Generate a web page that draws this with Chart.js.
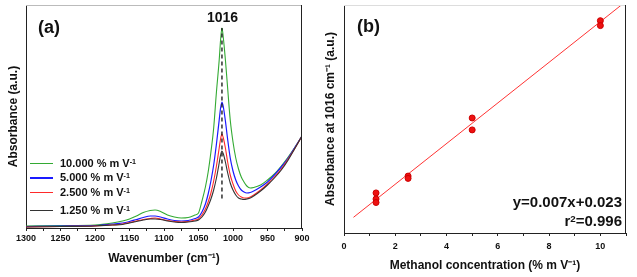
<!DOCTYPE html>
<html><head><meta charset="utf-8">
<script src="https://cdn.jsdelivr.net/npm/chart.js@4/dist/chart.umd.min.js"></script>
<style>
html,body{margin:0;padding:0;background:#fff;}
#wrap{position:relative;width:637px;height:277px;overflow:hidden;font-family:"Liberation Sans",Arial,sans-serif;color:#111;}
.pane{position:absolute;top:0;}
.t{position:absolute;font-weight:bold;white-space:nowrap;line-height:1;}
.t sup{font-size:65%;vertical-align:0;position:relative;top:-0.45em;}
.lg{position:absolute;height:0;}
</style></head><body>
<div id="wrap">
  <div class="pane" style="left:0;width:318px;height:277px"><canvas id="ca" width="318" height="277"></canvas></div>
  <div class="pane" style="left:320px;width:317px;height:277px"><canvas id="cb" width="317" height="277"></canvas></div>

  <div class="t" style="left:38px;top:18px;font-size:18px">(a)</div>
  <div class="t" style="left:207px;top:10px;font-size:14px">1016</div>

  <div class="lg" style="left:30px;top:163px;width:23px;border-top:1px solid #33aa33"></div>
  <div class="t" style="left:60px;top:158px;font-size:11px">10.000 % m V<sup>-1</sup></div>
  <div class="lg" style="left:30px;top:177px;width:23px;border-top:2px solid #1a1aff"></div>
  <div class="t" style="left:60px;top:172px;font-size:11px">5.000 % m V<sup>-1</sup></div>
  <div class="lg" style="left:30px;top:192px;width:23px;border-top:1px solid #ff2a2a"></div>
  <div class="t" style="left:60px;top:187px;font-size:11px">2.500 % m V<sup>-1</sup></div>
  <div class="lg" style="left:30px;top:210px;width:23px;border-top:1px solid #333"></div>
  <div class="t" style="left:60px;top:205px;font-size:11px">1.250 % m V<sup>-1</sup></div>

  <div class="t" style="left:357px;top:17px;font-size:18px">(b)</div>
  <div class="t" style="right:15px;top:194px;font-size:15px">y=0.007x+0.023</div>
  <div class="t" style="right:15px;top:213px;font-size:15px">r<sup>2</sup>=0.996</div>
</div>
<script>
// ---------- Panel (a): FTIR spectra ----------
const wavenumbers = [1300,1250,1200,1175,1160,1150,1140,1130,1120,1113,1105,1095,1085,1075,1065,1055,1050,1045,1040,1036,1032,1028,1024,1020,1018,1016,1014,1011,1008,1004,1000,996,992,988,984,980,975,970,960,950,940,930,920,910,900];
const abs10000 = [2,2.5,3,5,7,9,12,15.5,17.5,18,16.5,13,11,10,10.5,13,15,27,41,56,76,100,136,168,188,200,190,168,142,108,86,70,59,51,46,42,40,40.5,43,48,54,62,71,81,92];
const abs5000  = [1.5,2,2.5,4,5,6.5,8.5,10.5,12,12,11,9,7.5,7,7.5,9.5,11,16,24,34,47,63,84,108,120,126,121,107,90,70,57,48,42,38,36,35,35.5,37,41,46,53,61,70,81,92];
const abs2500  = [1,1.5,2,3,4,5.5,7,8.5,9.5,10,9,7.5,6.5,6,6.5,8,9,13,19,26,35,47,62,80,89,94,90,80,67,53,44,37,33,31,30,30,31,33,38,44,51,59,69,80,92];
const abs1250  = [1,1.5,2,3,3.5,5,6.5,8,9,9,8.5,7,6,5.5,6,7,8,11,16,22,29,38,50,65,73,77,74,66,56,45,38,33,30,29,28.5,29,30,32,37,43,50,58,68,80,92];
const peakMarkerX = [1016, 1016];
const peakMarkerY = [29.5, 200];
const xTicksA = [1300,1250,1200,1150,1100,1050,1000,950,900];

// ---------- Panel (b): calibration ----------
const concentrations = [1.25,1.25,1.25,2.5,2.5,5,5,10,10];
const absorbance1016 = [0.0340,0.0319,0.0307,0.0398,0.0390,0.0598,0.0557,0.0933,0.0916];
const fitX = [0.37, 10.82];
const fitY = [0.0256, 0.0987];
const xTicksB = [0,2,4,6,8,10];

const FONT = '"Liberation Sans", Arial, sans-serif';
const zip = (xs, ys) => xs.map((x, i) => ({x, y: ys[i]}));

const framePlugin = (topColor) => ({
  id: 'frame',
  afterDraw(chart) {
    const {ctx, chartArea: a} = chart;
    ctx.save();
    ctx.lineWidth = 1;
    ctx.strokeStyle = topColor;
    ctx.beginPath(); ctx.moveTo(a.left, a.top + 0.5); ctx.lineTo(a.right, a.top + 0.5); ctx.stroke();
    ctx.strokeStyle = '#222';
    ctx.beginPath(); ctx.moveTo(a.right - 0.5, a.top); ctx.lineTo(a.right - 0.5, a.bottom); ctx.stroke();
    ctx.restore();
  }
});

function lineDs(label, ys, color, width, order) {
  return {label, data: zip(wavenumbers, ys), borderColor: color, borderWidth: width,
    pointRadius: 0, fill: false, cubicInterpolationMode: 'monotone', order};
}

new Chart(document.getElementById('ca'), {
  type: 'line',
  data: {datasets: [
    {label: '1016', data: zip(peakMarkerX, peakMarkerY), borderColor: '#111', borderWidth: 1.3,
      borderDash: [4, 3], pointRadius: 0, order: 0},
    lineDs('10.000 % m V-1', abs10000, '#33aa33', 1.1, 4),
    lineDs('5.000 % m V-1', abs5000, '#1a1aff', 1.2, 3),
    lineDs('2.500 % m V-1', abs2500, '#ff2a2a', 1.1, 2),
    lineDs('1.250 % m V-1', abs1250, '#333333', 1.1, 1)
  ]},
  options: {
    responsive: false, animation: false,
    layout: {padding: {top: 5, right: 16, bottom: 0, left: 0}},
    plugins: {legend: {display: false}, tooltip: {enabled: false}},
    scales: {
      x: {type: 'linear', reverse: true, min: 900, max: 1300,
        afterFit: s => { s.height = 49; },
        afterBuildTicks: s => { const t = []; for (let v = 900; v <= 1300; v += 25) t.push({value: v}); s.ticks = t; },
        ticks: {autoSkip: false, maxRotation: 0, padding: 2, color: '#111',
          font: {family: FONT, size: 9, weight: 'bold'},
          callback: v => xTicksA.includes(v) ? String(v) : ''},
        grid: {drawOnChartArea: false, drawTicks: true, tickLength: 3, color: '#222'},
        border: {display: true, color: '#222', width: 1},
        title: {display: true, text: 'Wavenumber (cm⁻¹)', color: '#111',
          font: {family: FONT, size: 12, weight: 'bold'}, padding: {top: 0, bottom: 11}}
      },
      y: {type: 'linear', min: 0, max: 223,
        afterFit: s => { s.width = 26; },
        ticks: {display: false},
        grid: {drawOnChartArea: false, drawTicks: false},
        border: {display: true, color: '#222', width: 1},
        title: {display: true, text: 'Absorbance (a.u.)', color: '#111',
          font: {family: FONT, size: 12, weight: 'bold'}, padding: {top: 6, bottom: 0}}
      }
    }
  },
  plugins: [framePlugin('#bbbbbb')]
});

new Chart(document.getElementById('cb'), {
  type: 'scatter',
  data: {datasets: [
    {label: 'Measured', data: zip(concentrations, absorbance1016), pointRadius: 3,
      backgroundColor: '#ee1111', borderColor: '#cc0000', borderWidth: 1, order: 0},
    {label: 'Linear fit', data: zip(fitX, fitY), showLine: true, borderColor: '#ff3333',
      borderWidth: 1, pointRadius: 0, order: 1}
  ]},
  options: {
    responsive: false, animation: false,
    layout: {padding: {top: 5, right: 11, bottom: 0, left: 0}},
    plugins: {legend: {display: false}, tooltip: {enabled: false}},
    scales: {
      x: {type: 'linear', min: 0, max: 11,
        afterFit: s => { s.height = 44; },
        afterBuildTicks: s => { const t = []; for (let v = 0; v <= 11; v += 1) t.push({value: v}); s.ticks = t; },
        ticks: {autoSkip: false, maxRotation: 0, padding: 5, color: '#111',
          font: {family: FONT, size: 9, weight: 'bold'},
          callback: v => xTicksB.includes(v) ? String(v) : ''},
        grid: {drawOnChartArea: false, drawTicks: true, tickLength: 3, color: '#222'},
        border: {display: true, color: '#222', width: 1},
        title: {display: true, text: 'Methanol concentration (% m V⁻¹)', color: '#111',
          font: {family: FONT, size: 12, weight: 'bold'}, padding: {top: 0, bottom: 4}}
      },
      y: {type: 'linear', min: 0.0202, max: 0.0987,
        afterFit: s => { s.width = 24; },
        ticks: {display: false},
        grid: {drawOnChartArea: false, drawTicks: false},
        border: {display: true, color: '#222', width: 1},
        title: {display: true, text: 'Absorbance at 1016 cm⁻¹ (a.u.)', color: '#111',
          font: {family: FONT, size: 12, weight: 'bold'}, padding: {top: 3, bottom: 0}}
      }
    }
  },
  plugins: [framePlugin('#dddddd')]
});
</script>
</body></html>
